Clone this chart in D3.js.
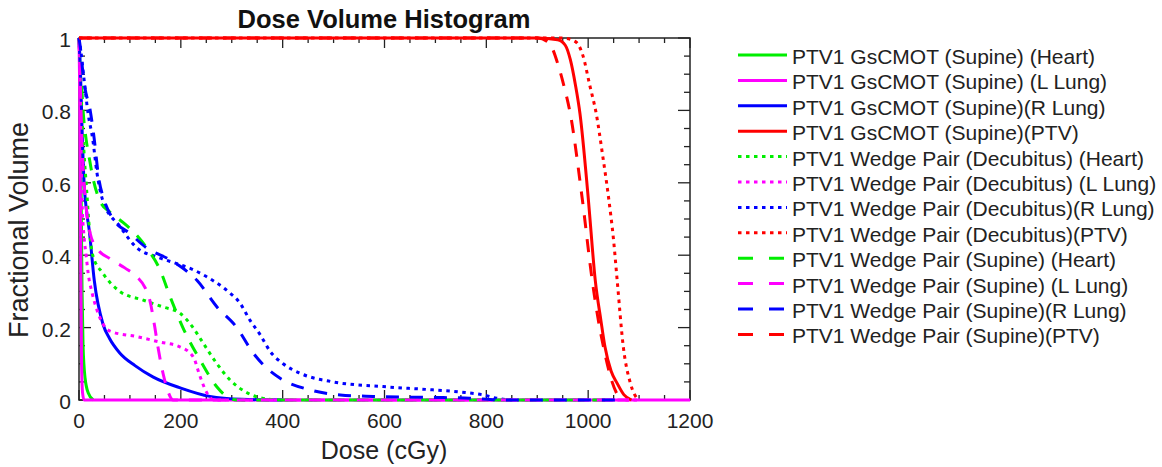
<!DOCTYPE html>
<html>
<head>
<meta charset="utf-8">
<script src="https://cdn.jsdelivr.net/npm/d3@7"></script>
<style>
  html, body { margin: 0; padding: 0; background: #fff; }
  svg { display: block; font-family: "Liberation Sans", Arial, sans-serif; }
</style>
</head>
<body>
<svg id="chart" width="1162" height="467"></svg>
<script>
// ---- Data: [dose (cGy), fractional volume] ----
const gsHeart = [[0,1],[2,0.9],[4,0.6],[6,0.3],[8,0.15],[12,0.06],[18,0.02],[28,0]];
const gsLLung = [[0,1],[1,0.9],[3,0.5],[5,0.1],[7,0.02],[10,0],[1200,0]];
const gsRLung = [[0,1],[3,0.9],[6,0.75],[10,0.6],[15,0.52],[20,0.47],[30,0.33],[47,0.21],[60,0.17],[80,0.13],[110,0.095],[145,0.064],[200,0.033],[257,0.01],[320,0.002],[400,0]];
const gsPTV = [[0,1],[900,1],[940,0.995],[955,0.98],[965,0.94],[975,0.87],[984,0.79],[1000,0.56],[1014,0.33],[1025,0.22],[1033,0.147],[1045,0.08],[1057,0.046],[1070,0.015],[1085,0]];

const decHeart = [[0,1],[3,0.9],[6,0.78],[10,0.68],[15,0.58],[20,0.48],[27,0.40],[47,0.35],[80,0.30],[126,0.276],[165,0.257],[198,0.24],[224,0.20],[244,0.157],[271,0.10],[297,0.055],[330,0.02],[360,0.005],[400,0],[1000,0]];
const decLLung = [[0,1],[2,0.9],[4,0.7],[6,0.55],[10,0.45],[14,0.4],[18,0.35],[25,0.3],[35,0.25],[61,0.19],[114,0.175],[159,0.16],[198,0.147],[224,0.12],[238,0.064],[251,0.02],[265,0],[1100,0]];
const decRLung = [[0,1],[4,0.96],[8,0.91],[18,0.79],[27,0.72],[35,0.63],[47,0.55],[80,0.48],[114,0.42],[153,0.395],[185,0.38],[224,0.36],[263,0.33],[297,0.295],[315,0.27],[336,0.22],[356,0.18],[375,0.135],[401,0.10],[434,0.074],[499,0.05],[597,0.037],[695,0.028],[750,0.022],[794,0.014],[820,0.005],[850,0]];
const decPTV = [[0,1],[950,1],[975,0.99],[990,0.95],[1003,0.87],[1016,0.79],[1028,0.68],[1040,0.56],[1050,0.44],[1057,0.33],[1069,0.147],[1083,0.046],[1098,0]];

const supHeart = [[0,1],[4,0.9],[8,0.8],[14,0.72],[20,0.67],[25,0.63],[41,0.55],[60,0.52],[87,0.49],[110,0.46],[133,0.42],[159,0.36],[179,0.285],[204,0.20],[238,0.11],[271,0.036],[290,0.01],[310,0],[1050,0]];
const supLLung = [[0,1],[3,0.85],[6,0.7],[10,0.6],[15,0.52],[22,0.46],[35,0.42],[61,0.39],[90,0.365],[114,0.34],[130,0.31],[139,0.276],[149,0.20],[155,0.147],[165,0.074],[172,0.036],[185,0],[1080,0]];
const supRLung = [[0,1],[3,0.97],[8,0.9],[12,0.86],[22,0.8],[30,0.72],[38,0.62],[50,0.55],[67,0.50],[100,0.46],[133,0.42],[179,0.387],[198,0.37],[232,0.33],[271,0.257],[310,0.20],[342,0.13],[360,0.1],[395,0.06],[454,0.028],[513,0.014],[578,0.01],[650,0.008],[700,0.007],[768,0.005],[830,0],[1060,0]];
const supPTV = [[0,1],[900,1],[920,0.99],[930,0.97],[940,0.93],[952,0.87],[965,0.79],[988,0.56],[1008,0.33],[1020,0.22],[1030,0.147],[1047,0.05],[1063,0]];

const seriesNames = [
  "PTV1 GsCMOT (Supine) (Heart)",
  "PTV1 GsCMOT (Supine) (L Lung)",
  "PTV1 GsCMOT (Supine)(R Lung)",
  "PTV1 GsCMOT (Supine)(PTV)",
  "PTV1 Wedge Pair (Decubitus) (Heart)",
  "PTV1 Wedge Pair (Decubitus) (L Lung)",
  "PTV1 Wedge Pair (Decubitus)(R Lung)",
  "PTV1 Wedge Pair (Decubitus)(PTV)",
  "PTV1 Wedge Pair (Supine) (Heart)",
  "PTV1 Wedge Pair (Supine) (L Lung)",
  "PTV1 Wedge Pair (Supine)(R Lung)",
  "PTV1 Wedge Pair (Supine)(PTV)"
];
const seriesData = [gsHeart, gsLLung, gsRLung, gsPTV, decHeart, decLLung, decRLung, decPTV, supHeart, supLLung, supRLung, supPTV];
const seriesColors = ["#00ee00","#ff00ff","#0000ff","#ff0000","#00ee00","#ff00ff","#0000ff","#ff0000","#00ee00","#ff00ff","#0000ff","#ff0000"];
const seriesStyles = ["solid","solid","solid","solid","dotted","dotted","dotted","dotted","dashed","dashed","dashed","dashed"];

const xTicks = [0,200,400,600,800,1000,1200];
const yTicks = [0,0.2,0.4,0.6,0.8,1];
const xTickLabels = ["0","200","400","600","800","1000","1200"];
const yTickLabels = ["0","0.2","0.4","0.6","0.8","1"];

// ---- Layout ----
const svg = d3.select("#chart");
const L = 79, R = 690, T = 38, B = 400;
const x = d3.scaleLinear().domain([0, 1200]).range([L, R]);
const y = d3.scaleLinear().domain([0, 1]).range([B, T]);

const dashFor = s => s === "dotted" ? "3.5,4.5" : s === "dashed" ? "13,11" : null;

// Frame
svg.append("rect").attr("x", L).attr("y", T).attr("width", R - L).attr("height", B - T)
  .attr("fill", "none").attr("stroke", "#222").attr("stroke-width", 1.5);

// Ticks (inside, on all four sides)
const g = svg.append("g").attr("stroke", "#222").attr("stroke-width", 1.3);
const xMinor = d3.range(0, 1201, 50);
const yMinor = d3.range(0, 1.0001, 0.05);
xMinor.forEach(v => {
  const major = Math.abs(v % 200) < 1e-6;
  const len = major ? 10 : 5;
  g.append("line").attr("x1", x(v)).attr("x2", x(v)).attr("y1", B).attr("y2", B - len);
  g.append("line").attr("x1", x(v)).attr("x2", x(v)).attr("y1", T).attr("y2", T + len);
});
yMinor.forEach(v => {
  const major = Math.abs(Math.round(v * 100) % 20) < 1e-6;
  const len = major ? 12 : 6;
  g.append("line").attr("y1", y(v)).attr("y2", y(v)).attr("x1", L).attr("x2", L + len);
  g.append("line").attr("y1", y(v)).attr("y2", y(v)).attr("x1", R).attr("x2", R - len);
});

// Tick labels
svg.append("g").selectAll("text").data(xTicks).join("text")
  .attr("x", d => x(d)).attr("y", 428).attr("text-anchor", "middle")
  .attr("font-size", 21).attr("fill", "#222").text((d, i) => xTickLabels[i]);
svg.append("g").selectAll("text").data(yTicks).join("text")
  .attr("x", 71).attr("y", d => y(d) + 9).attr("text-anchor", "end")
  .attr("font-size", 21).attr("fill", "#222").text((d, i) => yTickLabels[i]);

// Axis labels & title
svg.append("text").attr("x", 384).attr("y", 459).attr("text-anchor", "middle")
  .attr("font-size", 25).attr("fill", "#222").text("Dose (cGy)");
svg.append("text").attr("transform", "translate(28,230) rotate(-90)").attr("text-anchor", "middle")
  .attr("font-size", 27).attr("fill", "#222").text("Fractional Volume");
svg.append("text").attr("x", 384).attr("y", 28).attr("text-anchor", "middle")
  .attr("font-size", 25.5).attr("font-weight", "bold").attr("fill", "#111").text("Dose Volume Histogram");

// Curves
const line = d3.line().x(d => x(d[0])).y(d => y(d[1])).curve(d3.curveMonotoneX);
const lines = svg.append("g").attr("fill", "none");
seriesData.forEach((data, i) => {
  lines.append("path").attr("d", line(data))
    .attr("stroke", seriesColors[i]).attr("stroke-width", 3)
    .attr("stroke-dasharray", dashFor(seriesStyles[i]));
});

// Legend
const leg = svg.append("g");
seriesNames.forEach((name, i) => {
  const yy = 55 + i * 25.4;
  leg.append("line").attr("x1", 738).attr("x2", 787).attr("y1", yy).attr("y2", yy)
    .attr("stroke", seriesColors[i]).attr("stroke-width", 3)
    .attr("stroke-dasharray", seriesStyles[i] === "dashed" ? "15,16" : dashFor(seriesStyles[i]));
  leg.append("text").attr("x", 792).attr("y", yy + 9).attr("font-size", 21).attr("fill", "#222").text(name);
});
</script>
</body>
</html>
